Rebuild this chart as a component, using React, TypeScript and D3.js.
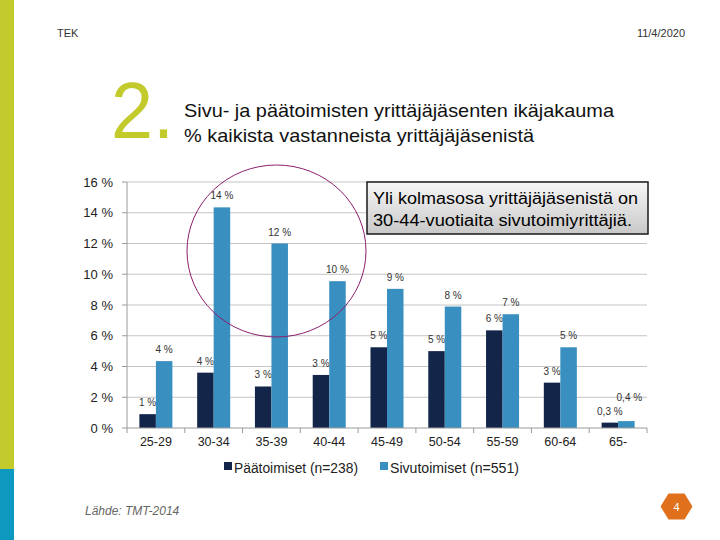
import React from "react";
import * as d3 from "d3";

const categories = ["25-29", "30-34", "35-39", "40-44", "45-49", "50-54", "55-59", "60-64", "65-"];
const seriesNames = ["Päätoimiset (n=238)", "Sivutoimiset (n=551)"];
const paatoimiset = [0.9, 3.6, 2.7, 3.45, 5.25, 5.0, 6.35, 2.95, 0.35];
const sivutoimiset = [4.35, 14.35, 12.0, 9.55, 9.05, 7.9, 7.4, 5.25, 0.45];
const paaLabels = ["1 %", "4 %", "3 %", "3 %", "5 %", "5 %", "6 %", "3 %", "0,3 %"];
const sivuLabels = ["4 %", "14 %", "12 %", "10 %", "9 %", "8 %", "7 %", "5 %", "0,4 %"];
const yTicks = [0, 2, 4, 6, 8, 10, 12, 14, 16];

const W = 720;
const H = 540;
const LIME = "#c2cb2b";
const STRIPBLUE = "#0c98bf";
const DARK = "#14254a";
const BLUE = "#3a8fc1";
const FONT = "Liberation Sans, Arial, sans-serif";

export default function App() {
  const x0 = d3.scaleBand<string>().domain(categories).range([127, 647]).padding(0);
  const x1 = d3
    .scaleBand<string>()
    .domain(["p", "s"])
    .range([0, x0.bandwidth()])
    .paddingInner(0)
    .paddingOuter(0.75);
  const y = d3.scaleLinear().domain([0, 16]).range([428, 182]);

  const series = [
    { key: "p", values: paatoimiset, labels: paaLabels, color: DARK },
    { key: "s", values: sivutoimiset, labels: sivuLabels, color: BLUE },
  ];

  const hex = d3.range(6).map((i) => {
    const a = (Math.PI / 3) * i;
    return [676.5 + 16 * Math.cos(a), 506.5 + 15 * Math.sin(a)];
  });

  return (
    <svg
      width={W}
      height={H}
      style={{ position: "absolute", left: 0, top: 0, background: "#fff" }}
      fontFamily={FONT}
    >
      <defs>
        <linearGradient id="boxg" x1="0" y1="0" x2="0" y2="1">
          <stop offset="0" stopColor="#f7f7f7" />
          <stop offset="1" stopColor="#c8c8c8" />
        </linearGradient>
      </defs>
      <rect x={0} y={0} width={W} height={H} fill="#fff" />
      <rect x={0} y={0} width={14} height={469} fill={LIME} />
      <rect x={0} y={469} width={14} height={71} fill={STRIPBLUE} />

      <text x={57} y={37} fontSize={11} fill="#333">TEK</text>
      <text x={685} y={37} fontSize={11} fill="#333" textAnchor="end">11/4/2020</text>

      <text x={111} y={138} fontSize={79} fill={LIME} textLength={63} lengthAdjust="spacingAndGlyphs">2.</text>
      <text x={184} y={117} fontSize={19} fill="#111" textLength={430} lengthAdjust="spacingAndGlyphs">
        Sivu- ja päätoimisten yrittäjäjäsenten ikäjakauma
      </text>
      <text x={184} y={142} fontSize={19} fill="#111" textLength={350} lengthAdjust="spacingAndGlyphs">
        % kaikista vastanneista yrittäjäjäsenistä
      </text>

      {yTicks.map((t) => (
        <g key={t}>
          {t > 0 && (
            <line x1={127} x2={647} y1={y(t)} y2={y(t)} stroke="#c4c4c4" strokeWidth={1} />
          )}
          <line x1={122} x2={127} y1={y(t)} y2={y(t)} stroke="#9a9a9a" strokeWidth={1} />
          <text x={113} y={y(t) + 4.5} fontSize={13} fill="#222" textAnchor="end">
            {`${t} %`}
          </text>
        </g>
      ))}
      <line x1={127} x2={127} y1={182} y2={428} stroke="#9a9a9a" strokeWidth={1} />

      {series.map((s) => (
        <g key={s.key}>
          {categories.map((c, i) => {
            const bx = (x0(c) ?? 0) + (x1(s.key) ?? 0);
            const by = y(s.values[i]);
            const crowded = s.key === "s" && Math.abs(sivutoimiset[i] - paatoimiset[i]) < 1;
            return (
              <g key={c}>
                <rect x={bx} y={by} width={x1.bandwidth()} height={y(0) - by} fill={s.color} />
                <text
                  x={bx + x1.bandwidth() / 2 + (crowded ? 3 : 0)}
                  y={by - (crowded ? 20 : 8)}
                  fontSize={10}
                  fill="#333"
                  textAnchor="middle"
                >
                  {s.labels[i]}
                </text>
              </g>
            );
          })}
        </g>
      ))}

      <line x1={127} x2={647} y1={428} y2={428} stroke="#9a9a9a" strokeWidth={1} />
      {categories.map((c, i) => (
        <g key={c}>
          <line
            x1={(x0(c) ?? 0) + x0.bandwidth()}
            x2={(x0(c) ?? 0) + x0.bandwidth()}
            y1={428}
            y2={433}
            stroke="#9a9a9a"
          />
          {i === 0 && <line x1={127} x2={127} y1={428} y2={433} stroke="#9a9a9a" />}
          <text
            x={(x0(c) ?? 0) + x0.bandwidth() / 2}
            y={446}
            fontSize={12.5}
            fill="#222"
            textAnchor="middle"
          >
            {c}
          </text>
        </g>
      ))}

      <rect x={224} y={462} width={8} height={8} fill={DARK} />
      <text x={234} y={473} fontSize={14} fill="#222" textLength={124} lengthAdjust="spacingAndGlyphs">{seriesNames[0]}</text>
      <rect x={380} y={462} width={8} height={8} fill={BLUE} />
      <text x={390} y={473} fontSize={14} fill="#222" textLength={129} lengthAdjust="spacingAndGlyphs">{seriesNames[1]}</text>

      <ellipse cx={276.5} cy={251} rx={89.5} ry={86} fill="none" stroke="#8a1f6c" strokeWidth={1} />

      <rect x={367} y={182} width={281} height={52} fill="url(#boxg)" stroke="#1a1a1a" strokeWidth={1.5} />
      <text x={373} y={204} fontSize={16} fill="#000" textLength={265} lengthAdjust="spacingAndGlyphs">
        Yli kolmasosa yrittäjäjäsenistä on
      </text>
      <text x={373} y={226} fontSize={16} fill="#000" textLength={259} lengthAdjust="spacingAndGlyphs">
        30-44-vuotiaita sivutoimiyrittäjiä.
      </text>

      <text x={85} y={515} fontSize={12} fill="#666" fontStyle="italic">Lähde: TMT-2014</text>
      <polygon points={hex.map((p) => p.join(",")).join(" ")} fill="#e0701b" />
      <text x={676.5} y={511} fontSize={11} fill="#fff" textAnchor="middle">4</text>
    </svg>
  );
}
